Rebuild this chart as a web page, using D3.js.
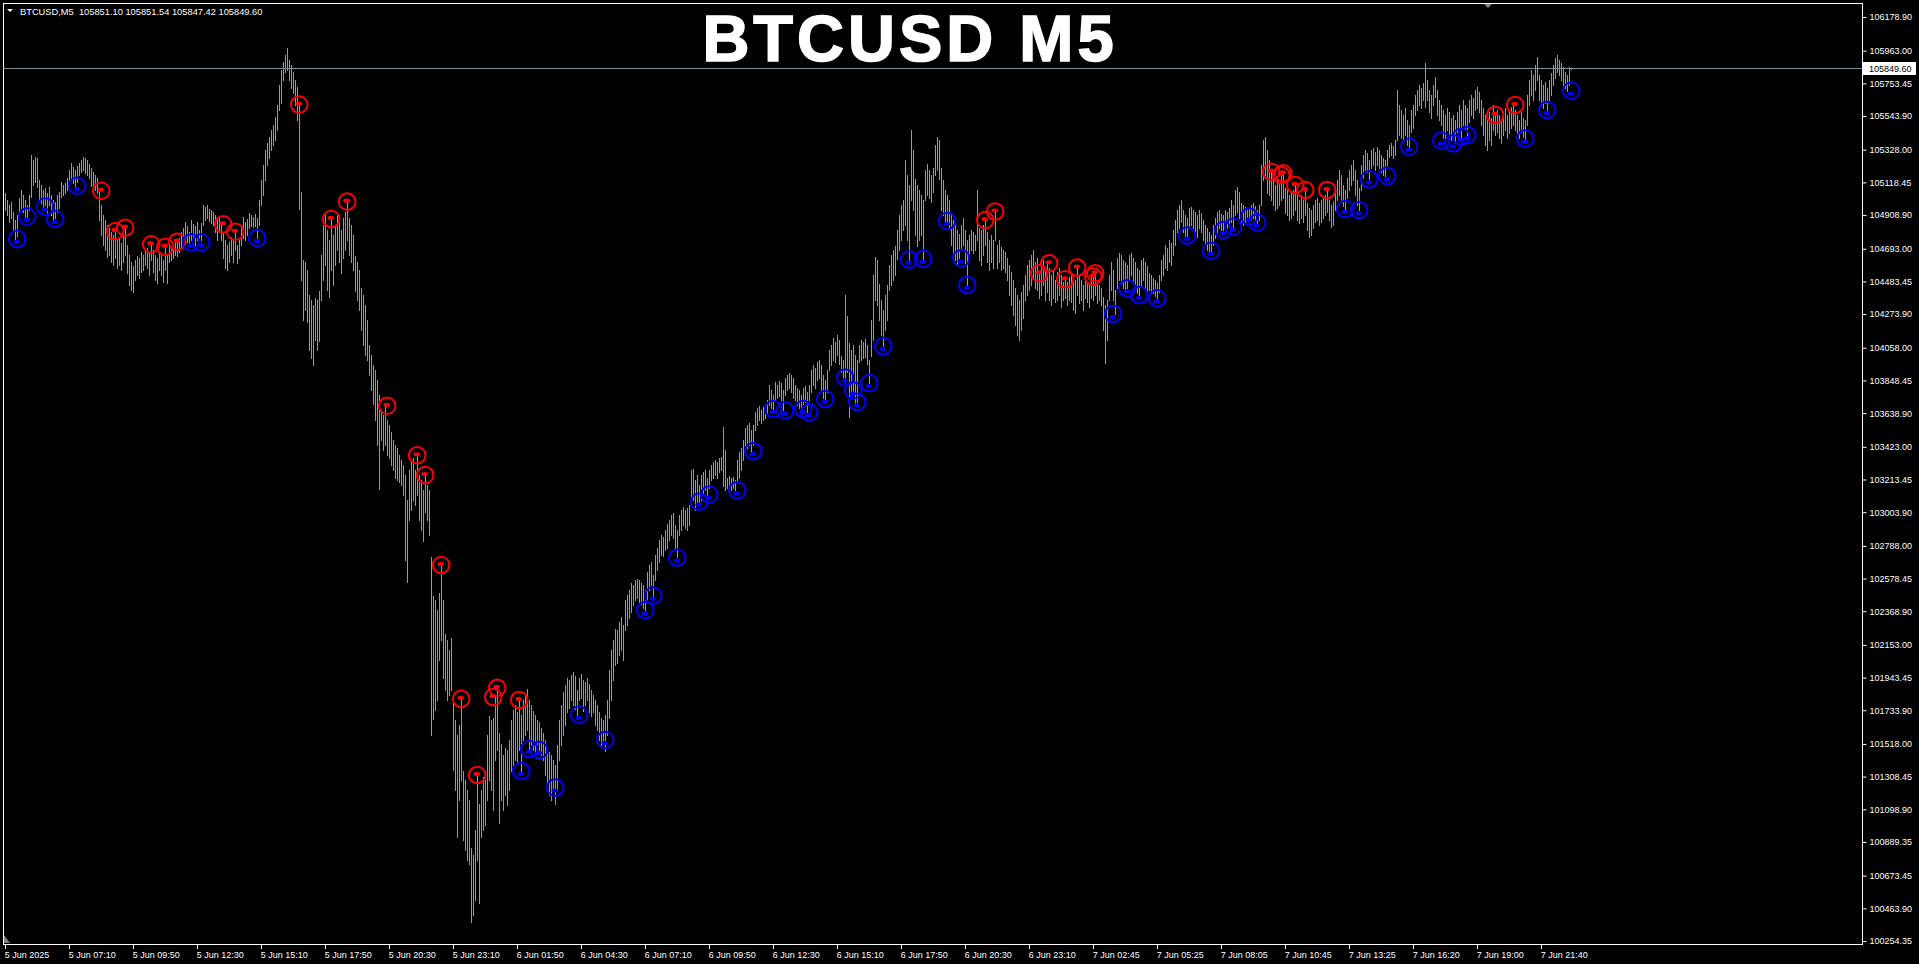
<!DOCTYPE html>
<html>
<head>
<meta charset="utf-8">
<script src="https://cdn.jsdelivr.net/npm/d3@7"></script>
<style>
  body { margin: 0; background: #000; overflow: hidden; }
  svg text { font-family: "Liberation Sans", Arial, sans-serif; }
</style>
</head>
<body>
<script>
// ---- data ----
const symbolName = "BTCUSD,M5";
const lastBarOHLC = ["105851.10", "105851.54", "105847.42", "105849.60"];
const chartTitle = "BTCUSD M5";
const bidPrice = 105849.60;

const priceTicks = [106178.90, 105963.00, 105753.45, 105543.90, 105328.00, 105118.45, 104908.90,
  104693.00, 104483.45, 104273.90, 104058.00, 103848.45, 103638.90, 103423.00, 103213.45,
  103003.90, 102788.00, 102578.45, 102368.90, 102153.00, 101943.45, 101733.90, 101518.00,
  101308.45, 101098.90, 100889.35, 100673.45, 100463.90, 100254.35];

const timeLabels = ["5 Jun 2025", "5 Jun 07:10", "5 Jun 09:50", "5 Jun 12:30", "5 Jun 15:10",
  "5 Jun 17:50", "5 Jun 20:30", "5 Jun 23:10", "6 Jun 01:50", "6 Jun 04:30", "6 Jun 07:10",
  "6 Jun 09:50", "6 Jun 12:30", "6 Jun 15:10", "6 Jun 17:50", "6 Jun 20:30", "6 Jun 23:10",
  "7 Jun 02:45", "7 Jun 05:25", "7 Jun 08:05", "7 Jun 10:45", "7 Jun 13:25", "7 Jun 16:20",
  "7 Jun 19:00", "7 Jun 21:40"];
const barsPerLabel = 32;

// [high, low] of every M5 bar, oldest first
const barHL = [
[105050,104940],[105006,104910],[104975,104865],[104990,104890],[104930,104815],[104880,104750],[104910,104775],[105020,104910],[105070,104955],[105040,104930],
[105005,104895],[104975,104880],[105040,104940],[105295,105025],[105262,105100],[105280,105120],[105275,105090],[105135,105005],[105100,104985],[105070,104960],
[105080,104975],[105050,104920],[105090,104975],[105040,104910],[105005,104880],[104990,104890],[105040,104930],[105055,104955],[105120,105025],[105100,105040],
[105115,105050],[105145,105070],[105198,105100],[105240,105135],[105215,105115],[105200,105090],[105225,105120],[105240,105165],[105262,105185],[105280,105198],
[105275,105180],[105262,105165],[105235,105145],[105210,105095],[105185,105085],[105165,105070],[105145,105050],[105070,104875],[104975,104780],[104910,104715],
[104875,104685],[104845,104640],[104825,104655],[104800,104610],[104780,104590],[104805,104635],[104750,104570],[104760,104590],[104730,104555],[104775,104610],
[104825,104655],[104717,104540],[104653,104460],[104610,104430],[104585,104415],[104620,104495],[104645,104525],[104635,104505],[104670,104545],[104653,104557],
[104685,104590],[104698,104570],[104670,104525],[104717,104620],[104685,104545],[104653,104495],[104635,104475],[104670,104557],[104653,104525],[104620,104480],
[104705,104557],[104653,104475],[104717,104608],[104698,104621],[104723,104635],[104749,104653],[104735,104645],[104760,104670],[104800,104698],[104825,104717],
[104865,104760],[104840,104735],[104800,104730],[104877,104749],[104850,104760],[104840,104717],[104865,104749],[104813,104730],[104860,104749],[104975,104845],
[104960,104877],[104975,104890],[104950,104870],[104941,104860],[104930,104845],[104909,104800],[104877,104749],[104890,104800],[104850,104749],[104795,104635],
[104749,104570],[104717,104557],[104735,104608],[104768,104653],[104749,104608],[104800,104685],[104717,104600],[104749,104635],[104845,104717],[104895,104760],
[104865,104749],[104885,104781],[104920,104825],[104909,104840],[104895,104830],[104915,104840],[104890,104760],[105006,104845],[105134,104975],[105230,105038],
[105326,105134],[105370,105230],[105410,105275],[105454,105326],[105487,105358],[105538,105390],[105615,105454],[105743,105583],[105839,105628],[105890,105775],
[105935,105826],[105980,105839],[105903,105775],[105871,105724],[105826,105692],[105775,105615],[105730,105519],[105620,104948],[105057,104493],[104621,104236],
[104608,104300],[104557,104224],[104396,104044],[104364,103993],[104332,103948],[104377,104108],[104364,104044],[104420,104100],[104653,104364],[104845,104493],
[104909,104589],[104813,104429],[104749,104384],[104880,104557],[104781,104461],[104845,104589],[104922,104685],[104865,104608],[104813,104538],[104890,104635],
[104930,104685],[104993,104749],[104890,104653],[104845,104608],[104781,104557],[104647,104422],[104608,104364],[104557,104300],[104441,104172],[104396,104076],
[104332,104012],[104236,103980],[104076,103884],[104012,103787],[103948,103698],[103916,103595],[103852,103435],[103755,103153],[103659,103467],[103627,103403],
[103685,103435],[103595,103371],[103563,103352],[103518,103307],[103467,103274],[103435,103223],[103416,103210],[103371,103198],[103339,103178],[103307,103114],
[103242,102697],[103082,102556],[103274,102954],[103326,103018],[103352,103082],[103274,103050],[103371,103114],[103242,102954],[103210,102890],[103146,102819],
[103242,103005],[103178,102954],[103146,102858],[102717,101575],[102467,101678],[102441,101735],[102377,101800],[102486,102056],[102665,102184],[102441,101940],
[102223,101864],[102184,101800],[102120,101832],[102197,101864],[101800,101351],[101671,101223],[101575,100921],[101640,101158],[101806,101287],[101345,100902],
[101287,100838],[101223,100774],[101158,100748],[100851,100377],[100806,100421],[100966,100517],[101319,100774],[101133,100498],[101223,100921],[101306,100966],
[101287,100998],[101575,101158],[101697,101287],[101671,101223],[101684,101094],[101819,101415],[101877,101479],[101588,101011],[101518,101158],[101447,101094],
[101492,101190],[101479,101126],[101543,101223],[101671,101345],[101735,101383],[101768,101415],[101723,101402],[101800,101479],[101703,101345],[101800,101543],
[101832,101575],[101870,101607],[101800,101485],[101768,101511],[101729,101479],[101703,101466],[101671,101479],[101659,101479],[101620,101447],[101588,101415],
[101543,101319],[101492,101255],[101466,101190],[101447,101158],[101415,101236],[101383,101133],[101511,101223],[101671,101415],[101768,101511],[101851,101575],
[101896,101639],[101941,101723],[101928,101748],[101960,101800],[101979,101768],[101954,101742],[101864,101703],[101941,101800],[101966,101812],[101928,101729],
[101915,101768],[101941,101800],[101902,101723],[101864,101697],[101832,101723],[101800,101639],[101768,101607],[101723,101543],[101684,101511],[101671,101543],
[101703,101473],[101800,101575],[101992,101684],[102120,101800],[102184,101928],[102255,102024],[102248,102037],[102300,102088],[102332,102120],[102280,102056],
[102441,102248],[102473,102280],[102505,102326],[102550,102364],[102537,102409],[102569,102441],[102575,102454],[102569,102428],[102550,102415],[102537,102390],
[102505,102377],[102620,102441],[102665,102505],[102685,102537],[102601,102467],[102729,102569],[102774,102633],[102826,102685],[102858,102729],[102845,102723],
[102890,102761],[102928,102774],[102954,102826],[102986,102858],[102999,102839],[102922,102774],[102890,102717],[102986,102858],[103018,102890],[103037,102922],
[103018,102903],[103031,102890],[103050,102922],[103274,103050],[103281,103082],[103210,103018],[103242,103050],[103178,103069],[103242,103082],[103262,103114],
[103274,103146],[103223,103114],[103274,103159],[103307,103210],[103326,103223],[103339,103242],[103326,103223],[103352,103262],[103358,103274],[103550,103172],
[103403,103146],[103223,103159],[103236,103165],[103223,103146],[103230,103159],[103210,103146],[103339,103198],[103390,103223],[103416,103274],[103467,103339],
[103544,103403],[103563,103416],[103576,103435],[103531,103397],[103563,103435],[103646,103531],[103672,103563],[103685,103595],[103659,103576],[103678,103595],
[103691,103608],[103723,103627],[103819,103691],[103787,103672],[103755,103665],[103839,103723],[103819,103736],[103845,103749],[103832,103723],[103787,103659],
[103864,103755],[103884,103787],[103896,103800],[103884,103775],[103864,103736],[103819,103723],[103800,103691],[103787,103672],[103755,103665],[103800,103698],
[103813,103710],[103775,103646],[103819,103723],[103916,103775],[103948,103819],[103928,103800],[103967,103852],[103980,103864],[103948,103787],[103884,103736],
[103852,103730],[103916,103775],[104044,103916],[104076,103948],[104121,103980],[104095,103967],[104140,104012],[104108,103955],[104005,103903],[103980,103871],
[104396,103864],[104262,103903],[104089,103614],[104044,103781],[104076,103755],[104012,103691],[103980,103710],[104076,103967],[104108,103980],[104095,103993],
[104114,103999],[104076,103955],[103980,103832],[104236,104005],[104525,104108],[104640,104364],[104621,104332],[104467,104236],[104364,104140],[104300,104070],
[104396,104172],[104461,104236],[104589,104429],[104653,104461],[104685,104493],[104711,104525],[104813,104627],[104909,104685],[104974,104749],[105006,104813],
[105262,104845],[105166,104749],[105102,104621],[105454,105006],[105326,104941],[105140,104781],[105102,104711],[105070,104749],[105038,104781],[105006,104627],
[105198,105006],[105236,105038],[105198,105018],[105166,104993],[105211,105057],[105358,105166],[105410,105198],[105390,105140],[105211,104941],[105134,104909],
[105070,104865],[105038,104870],[105006,104820],[104922,104717],[104877,104653],[104845,104621],[104813,104589],[104788,104635],[104845,104685],[104890,104717],
[104813,104589],[104749,104461],[104781,104653],[104813,104685],[104800,104665],[104781,104685],[105070,104749],[104825,104621],[104813,104589],[104845,104653],
[104877,104717],[104800,104608],[104749,104557],[104781,104608],[104749,104570],[104928,104749],[104717,104570],[104749,104608],[104705,104557],[104685,104570],
[104670,104545],[104635,104493],[104589,104396],[104545,104332],[104493,104268],[104441,104204],[104396,104140],[104364,104108],[104416,104172],[104461,104249],
[104525,104364],[104589,104396],[104621,104429],[104653,104461],[104685,104505],[104608,104441],[104635,104429],[104538,104377],[104589,104396],[104621,104461],
[104557,104364],[104608,104416],[104570,104364],[104525,104332],[104557,104377],[104493,104352],[104545,104364],[104570,104396],[104525,104320],[104480,104364],
[104500,104377],[104480,104332],[104512,104364],[104538,104352],[104505,104300],[104493,104281],[104570,104396],[104525,104345],[104493,104364],[104461,104300],
[104505,104377],[104480,104352],[104461,104320],[104518,104377],[104512,104364],[104538,104396],[104493,104345],[104461,104364],[104441,104332],[104384,104172],
[104332,103960],[104364,104108],[104525,104364],[104608,104429],[104557,104364],[104429,104275],[104633,104441],[104665,104493],[104653,104474],[104621,104441],
[104608,104429],[104589,104441],[104653,104493],[104665,104525],[104635,104480],[104608,104448],[104570,104409],[104557,104396],[104621,104461],[104635,104493],
[104608,104441],[104583,104416],[104538,104429],[104525,104409],[104505,104409],[104493,104390],[104474,104377],[104525,104416],[104621,104493],[104653,104525],
[104717,104570],[104698,104557],[104749,104608],[104730,104589],[104813,104653],[104877,104717],[104941,104800],[104974,104825],[105006,104865],[104941,104800],
[104909,104775],[104890,104775],[104954,104825],[104960,104845],[104941,104813],[104930,104794],[104909,104768],[104941,104825],[104922,104800],[104877,104749],
[104845,104717],[104825,104685],[104800,104672],[104781,104678],[104845,104717],[104890,104760],[104930,104800],[104941,104825],[104915,104813],[104909,104813],
[104941,104845],[104930,104825],[104954,104838],[105006,104865],[104974,104832],[105070,104909],[105089,104928],[105057,104890],[104986,104865],[104974,104845],
[104960,104865],[104941,104877],[104954,104897],[104974,104877],[104986,104890],[104967,104865],[104941,104858],[104974,104877],[105230,104974],[105390,105134],
[105410,105166],[105326,105050],[105262,105038],[105185,105006],[105147,104974],[105102,104941],[105134,104954],[105121,104974],[105166,105006],[105179,105018],
[105083,104922],[105070,104909],[105038,104877],[105050,104890],[105070,104909],[105102,104941],[105038,104877],[105006,104858],[105038,104890],[105006,104865],
[105070,104909],[104986,104813],[104954,104768],[104941,104781],[104974,104825],[105006,104865],[105018,104877],[104986,104845],[105006,104865],[105025,104890],
[105038,104909],[105070,104928],[105006,104877],[104974,104832],[104993,104845],[105070,104941],[105134,105006],[105198,105038],[105166,105006],[105102,104967],
[105070,104948],[105147,105018],[105198,105070],[105230,105102],[105262,105134],[105198,105038],[105134,104974],[105083,104941],[105230,105070],[105294,105147],
[105326,105198],[105307,105185],[105262,105140],[105326,105211],[105339,105230],[105313,105198],[105345,105230],[105326,105211],[105294,105185],[105275,105166],
[105262,105160],[105326,105230],[105358,105281],[105371,105294],[105352,105275],[105390,105294],[105711,105390],[105615,105422],[105583,105403],[105551,105390],
[105596,105422],[105519,105358],[105487,105345],[105583,105442],[105615,105467],[105679,105551],[105711,105583],[105743,105615],[105724,105596],[105756,105647],
[105884,105602],[105775,105647],[105711,105570],[105679,105532],[105743,105615],[105794,105666],[105711,105551],[105647,105519],[105615,105487],[105583,105403],
[105551,105384],[105596,105454],[105570,105422],[105532,105390],[105551,105403],[105519,105371],[105570,105442],[105615,105467],[105583,105410],[105647,105487],
[105615,105454],[105596,105422],[105647,105506],[105679,105551],[105660,105532],[105711,105583],[105730,105596],[105698,105570],[105647,105487],[105596,105422],
[105551,105358],[105519,105326],[105570,105390],[105532,105358],[105615,105454],[105551,105422],[105583,105442],[105551,105403],[105519,105371],[105570,105422],
[105596,105454],[105551,105403],[105583,105435],[105602,105467],[105615,105487],[105583,105454],[105551,105390],[105519,105403],[105570,105442],[105532,105410],
[105519,105397],[105679,105487],[105775,105615],[105839,105679],[105807,105647],[105871,105711],[105922,105775],[105807,105647],[105775,105615],[105743,105596],
[105762,105628],[105724,105583],[105775,105647],[105820,105679],[105871,105743],[105916,105788],[105935,105826],[105903,105807],[105884,105775],[105858,105743],
[105826,105724],[105807,105705],[105860,105743],[105852,105847]
];

// signal arrows: [bar index, price]
const sellSignals = [[48,105065],[55,104807],[60,104828],[73,104722],[80,104706],[86,104738],
  [109,104850],[115,104802],[147,105617],[163,104884],[171,104995],[191,103686],[206,103369],
  [210,103242],[218,102665],[228,101807],[236,101319],[244,101819],[246,101878],[257,101800],
  [490,104877],[495,104931],[517,104536],[522,104600],[530,104497],[536,104572],[544,104514],
  [545,104536],[633,105187],[638,105166],[639,105177],[645,105102],[650,105070],[661,105070],
  [745,105551],[755,105615]];
const buySignals = [[6,104756],[11,104899],[20,104963],[25,104884],[36,105097],[93,104734],
  [98,104734],[126,104762],[258,101344],[262,101485],[267,101479],[275,101238],[287,101705],
  [300,101543],[320,102375],[324,102469],[336,102712],[347,103071],[352,103117],[366,103144],
  [374,103395],[384,103665],[390,103657],[399,103665],[402,103643],[410,103730],[420,103867],
  [424,103784],[426,103710],[432,103832],[439,104069],[452,104623],[459,104628],[471,104871],
  [478,104632],[481,104461],[554,104275],[561,104439],[567,104396],[576,104375],[591,104777],
  [603,104680],[609,104813],[614,104834],[622,104899],[626,104860],[670,104948],[677,104941],
  [682,105138],[691,105160],[702,105347],[718,105386],[724,105369],[728,105411],[731,105422],
  [760,105399],[771,105583],[783,105706]];

// ---- layout ----
const W = 1919, H = 964;
const frame = { left: 3, top: 3, right: 1862, bottom: 944 };
const fg = "#ffffff";

const svg = d3.select("body").append("svg")
  .attr("width", W).attr("height", H)
  .style("background", "#000");

// MT4 draws bars at a fixed 2px step
const x = d3.scaleLinear().domain([0, 1]).range([5.2, 7.2]);
const y = d3.scaleLinear().domain([100254.35, 106178.90]).range([941, 17]);
const px = v => Math.round(v) + 0.5;

// frame
svg.append("rect")
  .attr("x", frame.left + 0.5).attr("y", frame.top + 0.5)
  .attr("width", frame.right - frame.left).attr("height", frame.bottom - frame.top)
  .attr("fill", "none").attr("stroke", fg).attr("shape-rendering", "crispEdges");

// bars
svg.append("g")
  .attr("shape-rendering", "crispEdges")
  .selectAll("line").data(barHL).join("line")
  .attr("x1", (d, i) => px(x(i))).attr("x2", (d, i) => px(x(i)))
  .attr("y1", d => Math.round(y(d[0])))
  .attr("y2", d => Math.round(y(d[1])) + 1)
  .attr("stroke", "#36e036").attr("stroke-width", 1);

// bid line
svg.append("line")
  .attr("x1", frame.left).attr("x2", frame.right)
  .attr("y1", px(y(bidPrice))).attr("y2", px(y(bidPrice)))
  .attr("stroke", "#7d8b99").attr("shape-rendering", "crispEdges");

// signals
function drawSignals(data, color, dotShift) {
  const g = svg.append("g").selectAll("g").data(data).join("g")
    .attr("transform", d => `translate(${x(d[0])},${y(d[1])})`);
  g.append("circle").attr("r", 8.3)
    .attr("fill", "none").attr("stroke", color).attr("stroke-width", 2);
  g.append("ellipse").attr("cx", -0.5).attr("cy", dotShift)
    .attr("rx", 3.3).attr("ry", 2.1)
    .attr("fill", color);
}
drawSignals(sellSignals, "#ff0000", -1);
drawSignals(buySignals, "#0000ff", 3);

// price axis
const yAxis = d3.axisRight(y)
  .tickValues(priceTicks)
  .tickFormat(d3.format(".2f"))
  .tickSize(4).tickSizeOuter(0).tickPadding(3);
const gy = svg.append("g")
  .attr("transform", `translate(${frame.right + 0.5},0)`)
  .call(yAxis);
gy.select(".domain").remove();
gy.selectAll(".tick line").attr("stroke", fg);
gy.selectAll(".tick text").attr("fill", fg).style("font-size", "9px");

// bid price box
const bidY = Math.round(y(bidPrice));
svg.append("rect")
  .attr("x", frame.right + 1).attr("y", bidY - 6)
  .attr("width", 53).attr("height", 13)
  .attr("fill", "#ffffff");
svg.append("text")
  .attr("x", frame.right + 7).attr("y", bidY + 4)
  .attr("fill", "#000").style("font-size", "9px")
  .text(d3.format(".2f")(bidPrice));

// time axis
const labelBars = timeLabels.map((d, i) => i * barsPerLabel);
const xAxis = d3.axisBottom(x)
  .tickValues(labelBars)
  .tickFormat((d, i) => timeLabels[i])
  .tickSize(4).tickSizeOuter(0).tickPadding(3);
const gx = svg.append("g")
  .attr("transform", `translate(0,${frame.bottom + 0.5})`)
  .call(xAxis);
gx.select(".domain").remove();
gx.selectAll(".tick line").attr("stroke", fg).attr("shape-rendering", "crispEdges");
gx.selectAll(".tick text").attr("fill", fg).attr("text-anchor", "start")
  .attr("dx", -1).style("font-size", "9px");

// header
svg.append("path")
  .attr("d", "M7,9 L13,9 L10,12 Z").attr("fill", fg);
svg.append("text")
  .attr("x", 20).attr("y", 15)
  .attr("fill", fg).style("font-size", "9.3px")
  .attr("xml:space", "preserve")
  .text(symbolName + "  " + lastBarOHLC.join(" "));

// chart shift marker and scroll marker
svg.append("path").attr("d", "M1484,4 L1492,4 L1488,8 Z").attr("fill", "#808080");
svg.append("path").attr("d", "M4,935 L4,943 L10,943 Z").attr("fill", "#808080");

// title
svg.append("text")
  .attr("x", 910).attr("y", 61)
  .attr("text-anchor", "middle")
  .attr("fill", "#fff").attr("stroke", "#fff").attr("stroke-width", 1.6)
  .style("font-size", "65px").style("font-weight", "bold")
  .style("letter-spacing", "4px")
  .text(chartTitle);
</script>
</body>
</html>
